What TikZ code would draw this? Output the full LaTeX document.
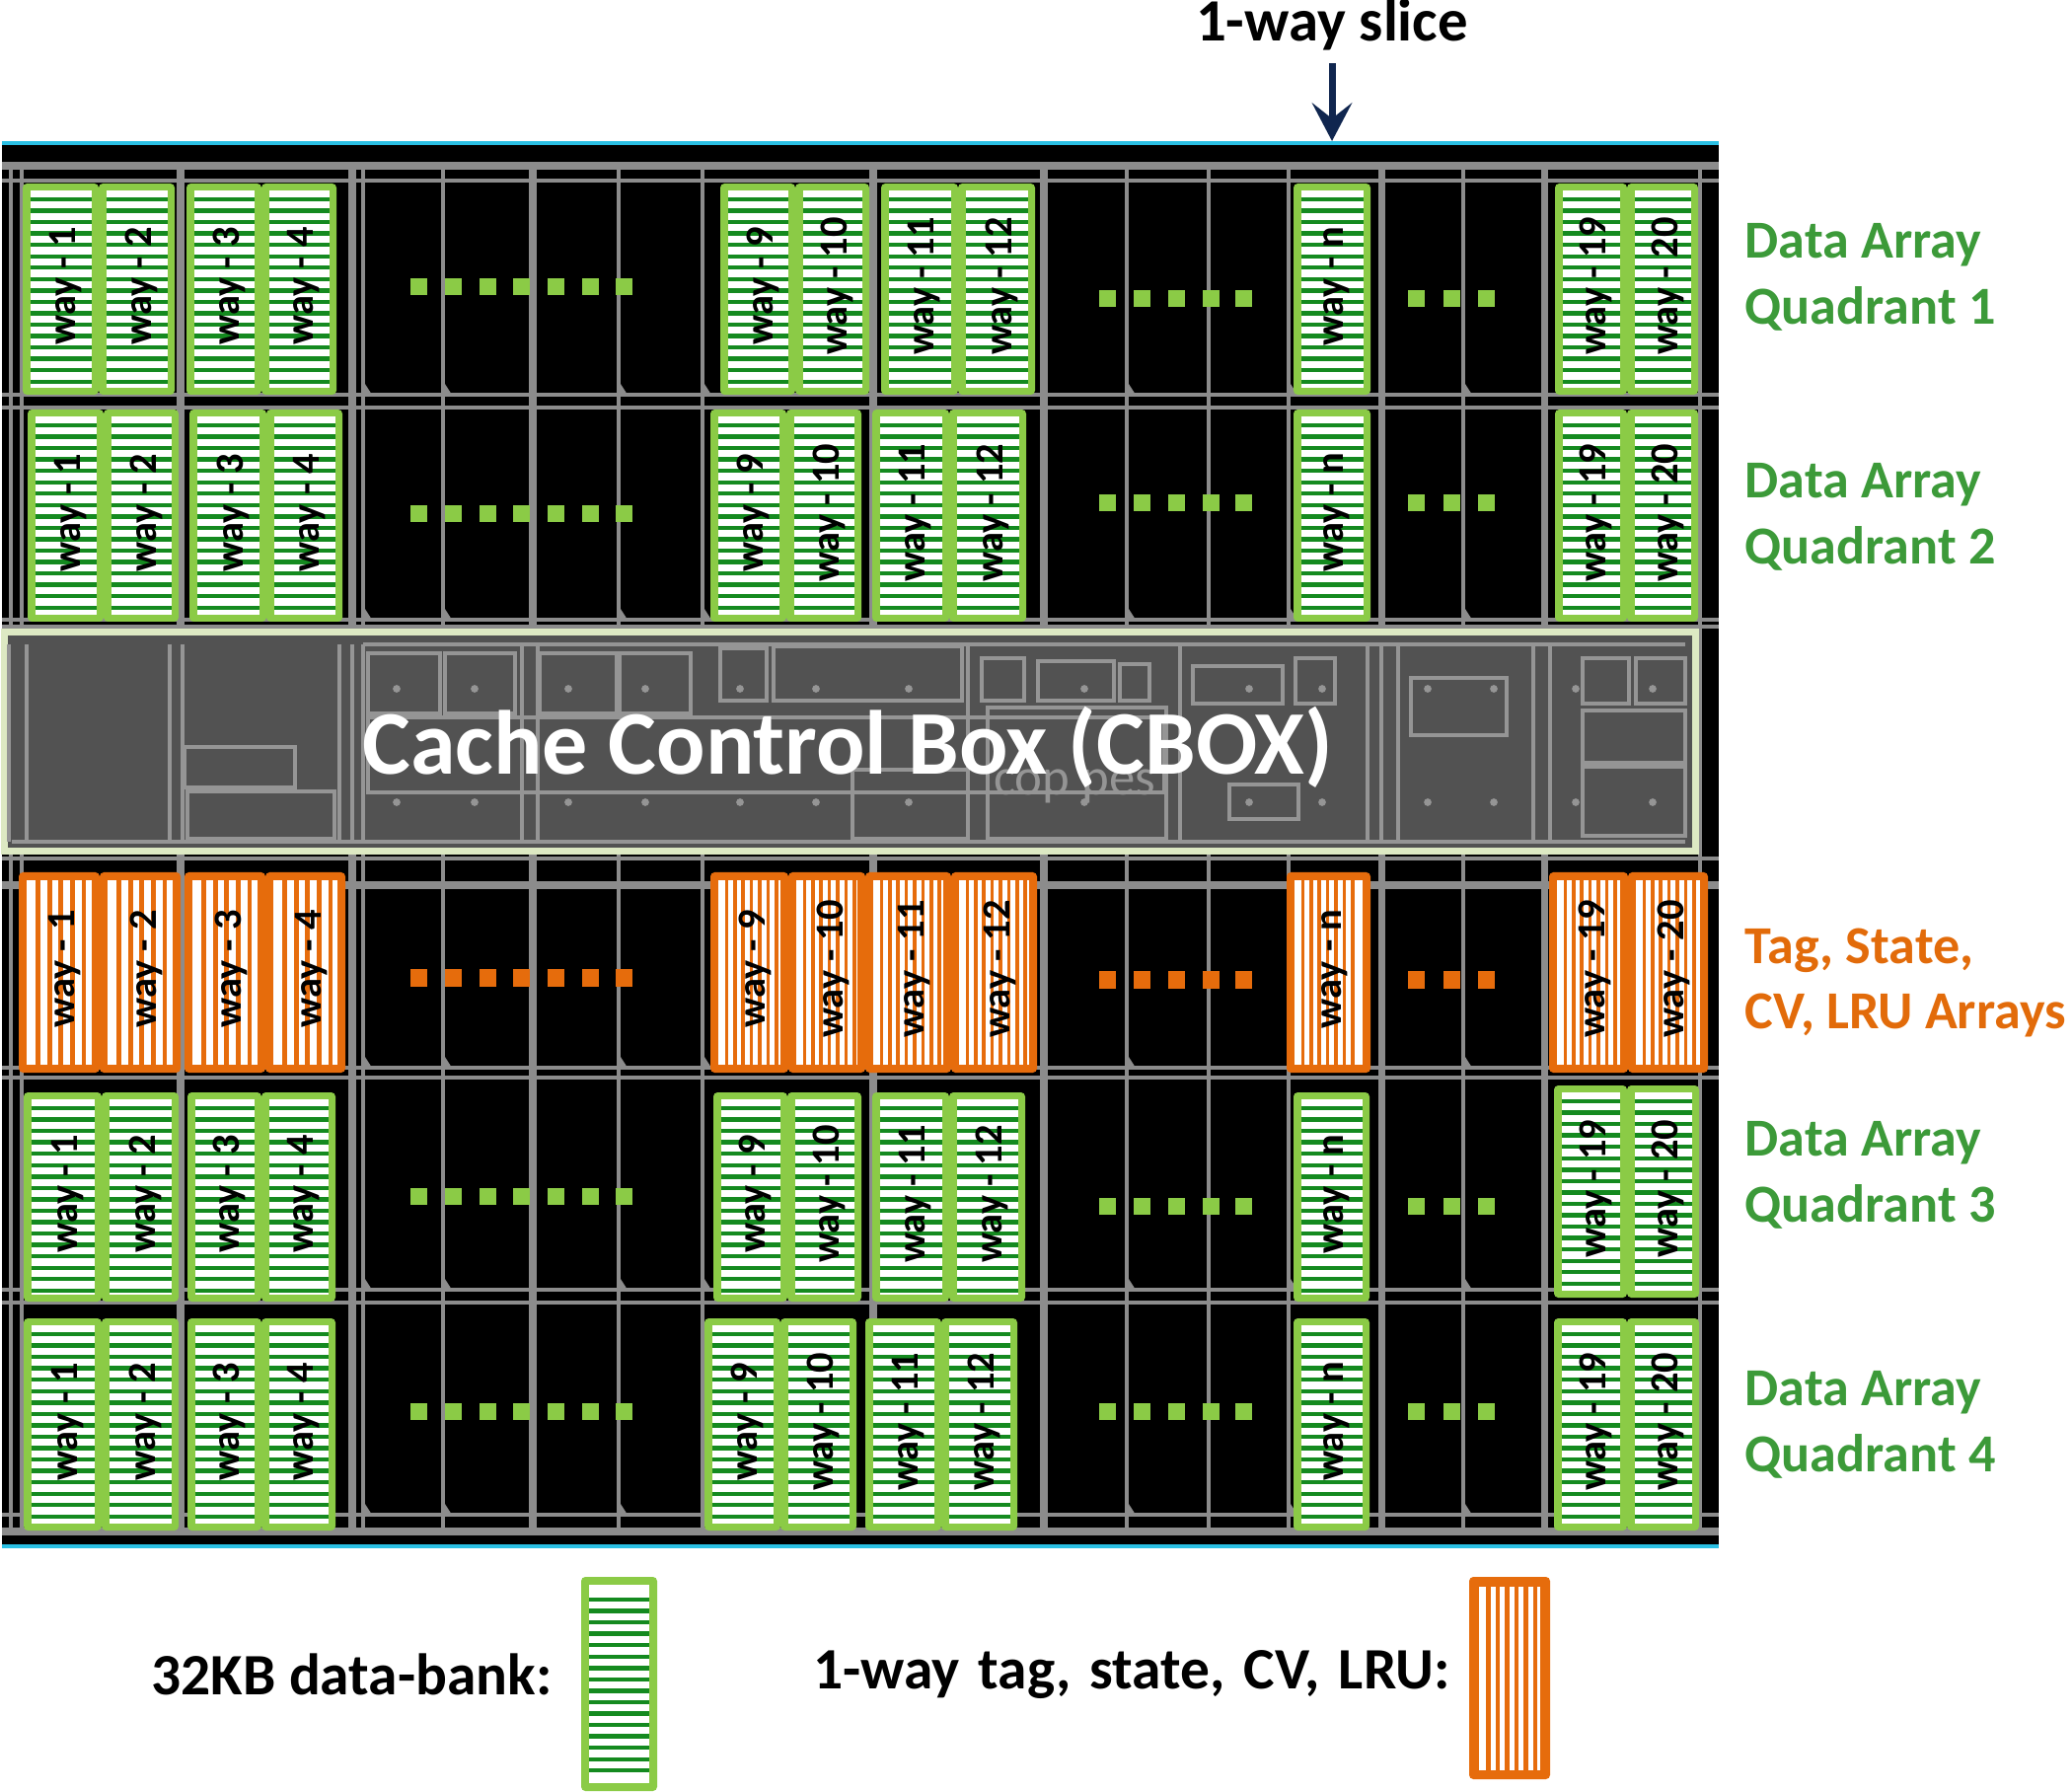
\documentclass[tikz,border=0pt]{standalone}
\usepackage{xcolor}
\usepackage{fontspec}
\setmainfont{Carlito}
\usetikzlibrary{arrows.meta,positioning}
\definecolor{cGreen}{HTML}{8BCB46}
\definecolor{cStripe}{HTML}{148A1F}
\definecolor{cOrange}{HTML}{E66C0C}
\definecolor{cTextG}{HTML}{3C9A39}
\definecolor{cTextO}{HTML}{E26B0A}
\definecolor{cGrid}{HTML}{8C8C8C}
\definecolor{cBoxLine}{HTML}{959595}
\definecolor{cBoxFill}{HTML}{525252}
\definecolor{cBoxEdge}{HTML}{DDE9C3}
\definecolor{cEdge}{HTML}{2BC0E4}
\definecolor{cNavy}{HTML}{10264F}
\tikzset{
  gridthin/.style={draw=cGrid, line width=0.95pt},
  gridthick/.style={draw=cGrid, line width=2pt},
  wayname/.style={rotate=90, font=\fontsize{11.5}{12}\selectfont\bfseries, text=black, inner sep=0pt},
  stripeg/.style={draw=cStripe, line width=1.25pt},
  bankg/.style={fill=cGreen, rounded corners=1.2pt},
  banko/.style={fill=cOrange, rounded corners=1.2pt},
  seplbl/.style={font=\fontsize{15.4}{19}\selectfont\bfseries, align=left, anchor=west, inner sep=0pt},
  keylbl/.style={font=\fontsize{16.9}{20}\selectfont\bfseries, text=black, inner sep=0pt},
  cboxline/.style={draw=cBoxLine, line width=0.9pt},
  cboxdot/.style={fill=cBoxLine},
  sliceflow/.style={-{Stealth[length=11pt,width=11.5pt,inset=4.5pt]}, line width=2pt, draw=cNavy},
}
% green way column: y top, y bottom, list of x left/x right/number
\newcommand{\datarow}[3]{%
  \pgfmathsetmacro\ysa{#1+16}\pgfmathsetmacro\ysb{\ysa+11.55}\pgfmathsetmacro\ysc{#2-9}%
  \foreach \xa/\xb/\wn in {#3} {
    \fill[bankg] (\xa,#1) rectangle (\xb,#2);
    \fill[white] (\xa+7.5,#1+7) rectangle (\xb-7.5,#2-7);
    \foreach \yy in {\ysa,\ysb,...,\ysc}
      \draw[stripeg] (\xa+7.5,\yy) -- (\xb-7.5,\yy);
    \node[wayname] (w#1-\wn) at ({(\xa+\xb)/2+5},{(#1+#2)/2-3}) {way - \wn};
  }
}
% orange way column: x step, bar width, list of x left/x right/number
\newcommand{\tagrow}[3]{%
  \foreach \xa/\xb/\wn in {#3} {
    \fill[banko] (\xa,884) rectangle (\xb,1087);
    \fill[white] (\xa+8,892) rectangle (\xb-8,1079);
    \pgfmathsetmacro\xsa{\xa+8+#1}\pgfmathsetmacro\xsb{\xsa+#1}\pgfmathsetmacro\xsc{\xb-10}
    \foreach \xx in {\xsa,\xsb,...,\xsc}
      \draw[draw=cOrange, line width=#2] (\xx,892) -- (\xx,1079);
    \node[wayname] (t-\wn) at ({(\xa+\xb)/2+6},982) {way - \wn};
  }
}
% row of little squares: colour, y, list of x
\newcommand{\dotrow}[3]{%
  \foreach \xx in {#3} {\fill[#1] (\xx-8.5,#2-8.5) rectangle (\xx+8.5,#2+8.5);}
}
\begin{document}
\begin{tikzpicture}[x=0.01cm,y=-0.01cm]
  \useasboundingbox (0,0) rectangle (2100,1816);

  % die
  \fill[black] (2,143) rectangle (1742,1568);
  \draw[cEdge, line width=1pt] (2,145) -- (1742,145);
  \draw[cEdge, line width=1pt] (2,1567) -- (1742,1567);
  \foreach \yy in {168,183,400,413,628,635,870,897,1082,1092,1307,1320,1535,1552}
    \draw[gridthin] (2,\yy) -- (1742,\yy);
  \draw[gridthick] (2,168) -- (1742,168);
  \draw[gridthick] (2,897) -- (1742,897);
  \draw[gridthick] (2,1552) -- (1742,1552);
  \foreach \xx in {11,22,368,449,627,712,1142,1225,1306,1483,1723}
    \draw[gridthin] (\xx,168) -- (\xx,1552);
  \foreach \xx in {183,357,540,885,1058,1400,1565}
    \draw[gridthick] (\xx,168) -- (\xx,1552);
  \foreach \yy in {400,628,1082,1307,1535}
    \foreach \xx in {368,449,627,712,1142,1306,1483}
      \fill[cGrid] (\xx,\yy-14) -- (\xx+9,\yy) -- (\xx-2,\yy) -- cycle;

  % data arrays
  \datarow{186}{400}{23/100/1,100/177/2,189/265/3,265/341/4,730/806/9,806/881/10,893/971/11,971/1049/12,1311/1389/n,1576/1649/19,1649/1721/20}
  \datarow{415}{630}{28/105/1,105/181/2,192/270/3,270/347/4,720/797/9,797/873/10,884/962/11,962/1040/12,1311/1389/n,1576/1649/19,1649/1721/20}
  \datarow{1107}{1319}{24/103/1,103/181/2,190/265/3,265/340/4,723/798/9,798/873/10,884/962/11,962/1039/12,1311/1388/n}
  \datarow{1100}{1315}{1575/1649/19,1649/1722/20}
  \datarow{1336}{1551}{24/103/1,103/181/2,190/265/3,265/340/4,714/791/9,791/868/10,877/954/11,954/1031/12,1311/1388/n,1575/1649/19,1649/1722/20}

  % tag arrays
  \tagrow{11.6}{1.4pt}{19/101/1,101/183/2,187/269/3,269/350/4}
  \tagrow{8.4}{1pt}{720/799/9,799/877/10,877/964/11,964/1051/12,1304/1389/n,1570/1650/19,1650/1731/20}

  % squares
  \foreach \cc/\yy in {cGreen/291,cGreen/521,cOrange/991,cGreen/1212,cGreen/1430} {
    \dotrow{\cc}{\yy}{424,459,494,528,563,598,632}
  }
  \foreach \cc/\yy in {cGreen/303,cGreen/510,cOrange/993,cGreen/1222,cGreen/1430} {
    \dotrow{\cc}{\yy}{1122,1157,1192,1227,1260,1435,1471,1506}
  }

  % control box
  \node[draw=cBoxEdge, fill=cBoxFill, line width=2pt, minimum width=17.13cm, minimum height=2.21cm, inner sep=0pt] (cbox) at (861.5,751.5) {};
  \foreach \xx in {9,27,172,185,344,357,368,529,545,981,1196,1386,1400,1417,1554,1571}
    \draw[cboxline] (\xx,653) -- (\xx,853);
  \draw[cboxline] (12,853) -- (1708,853);
  \draw[cboxline] (368,653) -- (1708,653);
  \foreach \xa/\ya/\xb/\yb in {187/757/299/798,190/802/339/850,373/662/446/723,451/662/522/723,547/662/625/723,628/662/700/723,
    730/657/777/710,784/655/975/710,995/667/1038/710,1052/670/1129/710,1135/673/1165/710,1209/675/1300/713,1313/667/1353/713,
    1430/687/1527/745,1604/667/1651/713,1658/667/1708/713,1604/720/1708/773,1604/777/1708/847,1246/795/1316/830,
    373/727/1180/803,864/780/981/850,1001/717/1182/850}
    \draw[cboxline] (\xa,\ya) rectangle (\xb,\yb);
  \foreach \xx in {402,481,576,654,750,827,921,1099,1266,1340,1447,1514,1597,1675}
    \fill[cboxdot] (\xx,698) circle (1.1pt) (\xx,813) circle (1.1pt);
  \node[text=cBoxLine, font=\fontsize{15}{16}\selectfont, inner sep=0pt] (coppes) at (1089,797) {cop pes};
  \node[text=white, font=\fontsize{26.2}{28}\selectfont\bfseries, inner sep=0pt] (cboxname) at (859,757) {Cache Control Box (CBOX)};

  % slice pointer
  \node[font=\fontsize{17.3}{18}\selectfont\bfseries, anchor=base, inner xsep=0pt, inner ysep=3.4pt] (slicelbl) at (1350,42) {1-way slice};
  \coordinate (slicetop) at (1350,143);
  \draw[sliceflow] (slicelbl.south) -- (slicetop);

  % quadrant names
  \node[seplbl, text=cTextG] (quad1) at (1768,281) {Data Array\\Quadrant 1};
  \node[seplbl, text=cTextG] (quad2) at (1768,524) {Data Array\\Quadrant 2};
  \node[seplbl, text=cTextO] (tagname) at (1768,996) {Tag, State,\\CV, LRU Arrays};
  \node[seplbl, text=cTextG] (quad3) at (1768,1191) {Data Array\\Quadrant 3};
  \node[seplbl, text=cTextG] (quad4) at (1768,1444) {Data Array\\Quadrant 4};

  % legend
  \node[keylbl, anchor=east] (keydata) at (560,1697) {32KB data-bank:};
  \node[keylbl, anchor=east] (keytag) at (1470,1697) {\spaceskip=5.4pt 1-way tag, state, CV, LRU:};
  \fill[bankg] (589,1598) rectangle (666,1815);
  \fill[white] (597,1606) rectangle (658,1807);
  \foreach \yy in {1621,1632.55,...,1800}
    \draw[stripeg] (597,\yy) -- (658,\yy);
  \fill[banko] (1489,1598) rectangle (1571,1803);
  \fill[white] (1499,1608) rectangle (1561,1794);
  \foreach \xx in {1508.5,1518,...,1556}
    \draw[draw=cOrange, line width=1.2pt] (\xx,1608) -- (\xx,1794);
\end{tikzpicture}
\end{document}
